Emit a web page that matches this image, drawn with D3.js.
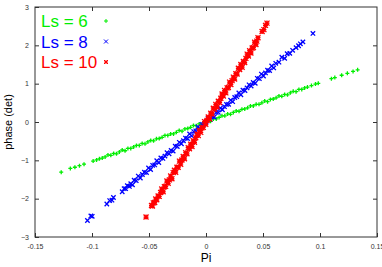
<!DOCTYPE html>
<html>
<head>
<meta charset="utf-8">
<script src="https://cdn.jsdelivr.net/npm/d3@7"></script>
<style>
  body { margin: 0; background: #fff; }
  text { font-family: "Liberation Sans", Arial, sans-serif; }
</style>
</head>
<body>
<div id="plot"></div>
<script>
// tick values
const xTicks = [-0.15, -0.1, -0.05, 0, 0.05, 0.1, 0.15];
const yTicks = [-3, -2, -1, 0, 1, 2, 3];

const seriesNames = ['Ls = 6', 'Ls = 8', 'Ls = 10'];

// Ls = 6 (green, +)
const piLs6 = [-0.1270, -0.1190, -0.1150, -0.1110, -0.1070, -0.0990, -0.0960, -0.0935, -0.0910, -0.0885,
  -0.0860, -0.0835, -0.0810, -0.0785, -0.0760, -0.0735, -0.0710, -0.0685, -0.0660, -0.0635,
  -0.0610, -0.0585, -0.0560, -0.0535, -0.0510, -0.0485, -0.0460, -0.0435, -0.0410, -0.0385,
  -0.0360, -0.0335, -0.0310, -0.0285, -0.0260, -0.0235, -0.0210, -0.0185, -0.0160, -0.0135,
  -0.0110, -0.0085, -0.0060, -0.0035, -0.0010, 0.0015, 0.0040, 0.0065, 0.0090, 0.0115,
  0.0140, 0.0165, 0.0190, 0.0215, 0.0240, 0.0265, 0.0290, 0.0315, 0.0340, 0.0365,
  0.0390, 0.0415, 0.0440, 0.0465, 0.0490, 0.0515, 0.0540, 0.0565, 0.0590, 0.0615,
  0.0640, 0.0665, 0.0690, 0.0715, 0.0740, 0.0765, 0.0790, 0.0815, 0.0840, 0.0865,
  0.0890, 0.0925, 0.0960, 0.0985, 0.1100, 0.1130, 0.1190, 0.1240, 0.1290, 0.1330];
const phaseLs6 = [-1.31, -1.21, -1.18, -1.14, -1.10, -1.02, -0.99, -0.96, -0.94, -0.91,
  -0.86, -0.87, -0.82, -0.83, -0.78, -0.73, -0.75, -0.69, -0.69, -0.65,
  -0.61, -0.61, -0.56, -0.57, -0.52, -0.48, -0.49, -0.44, -0.43, -0.40,
  -0.35, -0.35, -0.31, -0.31, -0.27, -0.22, -0.24, -0.18, -0.17, -0.14,
  -0.09, -0.10, -0.05, -0.06, -0.01, 0.04, 0.02, 0.08, 0.08, 0.12,
  0.16, 0.16, 0.21, 0.20, 0.25, 0.29, 0.28, 0.33, 0.34, 0.37,
  0.42, 0.42, 0.46, 0.46, 0.50, 0.55, 0.53, 0.59, 0.60, 0.63,
  0.68, 0.67, 0.72, 0.71, 0.76, 0.80, 0.79, 0.85, 0.85, 0.89,
  0.91, 0.95, 0.99, 1.01, 1.13, 1.16, 1.22, 1.27, 1.32, 1.36];

// Ls = 8 (blue, x)
const piLs8 = [-0.1040, -0.1010, -0.0998, -0.0870, -0.0845, -0.0825, -0.0812, -0.0735, -0.0718, -0.0705,
  -0.0690, -0.0672, -0.0660, -0.0645, -0.0630, -0.0612, -0.0594, -0.0576, -0.0558, -0.0540,
  -0.0522, -0.0504, -0.0486, -0.0468, -0.0450, -0.0432, -0.0414, -0.0396, -0.0378, -0.0360,
  -0.0342, -0.0324, -0.0306, -0.0288, -0.0270, -0.0252, -0.0234, -0.0216, -0.0198, -0.0180,
  -0.0162, -0.0144, -0.0126, -0.0108, -0.0090, -0.0072, -0.0054, -0.0036, -0.0018, 0.0000,
  0.0018, 0.0036, 0.0054, 0.0072, 0.0090, 0.0108, 0.0126, 0.0144, 0.0162, 0.0180,
  0.0198, 0.0216, 0.0234, 0.0252, 0.0270, 0.0288, 0.0306, 0.0324, 0.0342, 0.0360,
  0.0378, 0.0396, 0.0414, 0.0432, 0.0450, 0.0468, 0.0486, 0.0504, 0.0522, 0.0540,
  0.0558, 0.0576, 0.0594, 0.0612, 0.0640, 0.0665, 0.0690, 0.0712, 0.0735, 0.0760,
  0.0790, 0.0812, 0.0828, 0.0850, 0.0938];
const phaseLs8 = [-2.57, -2.45, -2.46, -2.14, -2.05, -2.04, -1.97, -1.82, -1.74, -1.74,
  -1.66, -1.68, -1.61, -1.64, -1.52, -1.53, -1.41, -1.46, -1.37, -1.31,
  -1.32, -1.20, -1.24, -1.13, -1.12, -1.01, -1.06, -0.94, -0.95, -0.89,
  -0.80, -0.83, -0.74, -0.76, -0.63, -0.64, -0.53, -0.57, -0.49, -0.42,
  -0.43, -0.31, -0.36, -0.25, -0.23, -0.13, -0.17, -0.06, -0.06, 0.00,
  0.09, 0.06, 0.14, 0.13, 0.25, 0.25, 0.36, 0.32, 0.40, 0.46,
  0.46, 0.57, 0.53, 0.64, 0.66, 0.76, 0.71, 0.83, 0.82, 0.89,
  0.97, 0.94, 1.03, 1.01, 1.14, 1.13, 1.25, 1.20, 1.28, 1.35,
  1.34, 1.46, 1.41, 1.53, 1.56, 1.69, 1.66, 1.78, 1.79, 1.87,
  1.94, 1.99, 2.04, 2.09, 2.31];

// Ls = 10 (red, *)
const piLs10 = [-0.0526, -0.0478, -0.0470, -0.0462, -0.0450, -0.0441, -0.0432, -0.0420, -0.0410, -0.0398,
  -0.0388, -0.0376, -0.0365, -0.0354, -0.0343, -0.0332, -0.0321, -0.0310, -0.0299, -0.0288,
  -0.0277, -0.0266, -0.0255, -0.0244, -0.0233, -0.0222, -0.0211, -0.0200, -0.0189, -0.0178,
  -0.0167, -0.0156, -0.0145, -0.0134, -0.0123, -0.0112, -0.0101, -0.0090, -0.0079, -0.0068,
  -0.0057, -0.0046, -0.0035, -0.0024, -0.0013, -0.0002, 0.0009, 0.0020, 0.0031, 0.0042,
  0.0053, 0.0064, 0.0075, 0.0086, 0.0097, 0.0108, 0.0119, 0.0130, 0.0141, 0.0152,
  0.0163, 0.0174, 0.0185, 0.0196, 0.0207, 0.0218, 0.0229, 0.0240, 0.0251, 0.0262,
  0.0273, 0.0284, 0.0295, 0.0306, 0.0317, 0.0328, 0.0339, 0.0350, 0.0361, 0.0372,
  0.0383, 0.0394, 0.0405, 0.0416, 0.0427, 0.0438, 0.0446, 0.0456, 0.0492, 0.0508,
  0.0522, 0.0535];
const phaseLs10 = [-2.48, -2.18, -2.19, -2.11, -2.10, -2.01, -2.03, -1.93, -1.94, -1.84,
  -1.75, -1.82, -1.69, -1.68, -1.54, -1.60, -1.51, -1.41, -1.48, -1.32,
  -1.26, -1.31, -1.18, -1.18, -1.02, -1.10, -0.99, -0.90, -0.96, -0.80,
  -0.83, -0.67, -0.70, -0.58, -0.64, -0.49, -0.53, -0.41, -0.31, -0.35,
  -0.22, -0.27, -0.15, -0.14, 0.01, -0.06, 0.04, 0.13, 0.08, 0.23,
  0.21, 0.36, 0.33, 0.46, 0.39, 0.54, 0.51, 0.62, 0.73, 0.68,
  0.82, 0.76, 0.89, 0.90, 1.04, 0.98, 1.08, 1.17, 1.12, 1.26,
  1.25, 1.40, 1.37, 1.50, 1.43, 1.58, 1.55, 1.66, 1.77, 1.72,
  1.86, 1.80, 1.93, 1.94, 2.08, 2.02, 2.11, 2.20, 2.36, 2.41,
  2.52, 2.58];

const width = 382;
const height = 267;
const margin = { top: 7, right: 5, bottom: 30, left: 35 };

const series = [
  { name: seriesNames[0], xs: piLs6, ys: phaseLs6, color: '#00ee00', shape: 'plus', r: 2 },
  { name: seriesNames[1], xs: piLs8, ys: phaseLs8, color: '#0000ff', shape: 'cross', r: 2.2 },
  { name: seriesNames[2], xs: piLs10, ys: phaseLs10, color: '#ff0000', shape: 'star', r: 2.5 },
];

const svg = d3.select('#plot')
  .append('svg')
  .attr('width', width)
  .attr('height', height);

const x = d3.scaleLinear()
  .domain([-0.15, 0.15])
  .range([margin.left, width - margin.right]);

const y = d3.scaleLinear()
  .domain([-3, 3])
  .range([height - margin.bottom, margin.top]);

const fmtX = (d) => (d === 0 ? '0' : String(d));

// axes, gnuplot style: ticks inside, mirrored
const tickStyle = (g) => {
  g.select('.domain').remove();
  g.selectAll('line').attr('stroke', '#333');
  g.selectAll('text').attr('fill', '#333').style('font-size', '7px');
};

svg.append('g')
  .attr('transform', `translate(0,${y(-3)})`)
  .call(d3.axisBottom(x).tickValues(xTicks).tickFormat(fmtX).tickSizeInner(-4).tickPadding(7))
  .call(tickStyle);

svg.append('g')
  .attr('transform', `translate(0,${y(3)})`)
  .call(d3.axisTop(x).tickValues(xTicks.slice(1, -1)).tickFormat('').tickSizeInner(-4))
  .call(tickStyle);

svg.append('g')
  .attr('transform', `translate(${x(-0.15)},0)`)
  .call(d3.axisLeft(y).tickValues(yTicks).tickFormat(d3.format('d')).tickSizeInner(-4).tickPadding(6))
  .call(tickStyle);

svg.append('g')
  .attr('transform', `translate(${x(0.15)},0)`)
  .call(d3.axisRight(y).tickValues(yTicks.slice(1, -1)).tickFormat('').tickSizeInner(-4))
  .call(tickStyle);

svg.append('rect')
  .attr('x', x(-0.15))
  .attr('y', y(3))
  .attr('width', x(0.15) - x(-0.15))
  .attr('height', y(-3) - y(3))
  .attr('fill', 'none')
  .attr('stroke', '#333')
  .attr('stroke-width', 1);

// marker paths centred on 0,0
const marker = (shape, r) => {
  if (shape === 'plus') return `M${-r},0H${r}M0,${-r}V${r}`;
  if (shape === 'cross') return `M${-r},${-r}L${r},${r}M${-r},${r}L${r},${-r}`;
  return `M${-r},0H${r}M0,${-r}V${r}M${-r},${-r}L${r},${r}M${-r},${r}L${r},${-r}`;
};

series.forEach((s) => {
  svg.append('g')
    .selectAll('path')
    .data(d3.zip(s.xs, s.ys))
    .enter()
    .append('path')
    .attr('transform', (d) => `translate(${x(d[0])},${y(d[1])})`)
    .attr('d', marker(s.shape, s.r))
    .attr('fill', 'none')
    .attr('stroke', s.color)
    .attr('stroke-width', 1.3);
});

// legend
const legend = svg.append('g');
series.forEach((s, i) => {
  legend.append('text')
    .attr('x', 41)
    .attr('y', 27 + i * 20.5)
    .attr('fill', s.color)
    .style('font-size', '17px')
    .text(s.name);
  legend.append('path')
    .attr('transform', `translate(106,${21 + i * 20.5})`)
    .attr('d', marker(s.shape, 2))
    .attr('fill', 'none')
    .attr('stroke', s.color)
    .attr('stroke-width', 1);
});

// axis titles
svg.append('text')
  .attr('x', (x(-0.15) + x(0.15)) / 2)
  .attr('y', 262)
  .attr('text-anchor', 'middle')
  .style('font-size', '12px')
  .text('Pi');

svg.append('text')
  .attr('transform', `translate(12,${y(0)}) rotate(-90)`)
  .attr('text-anchor', 'middle')
  .style('font-size', '11px')
  .text('phase (det)');
</script>
</body>
</html>
